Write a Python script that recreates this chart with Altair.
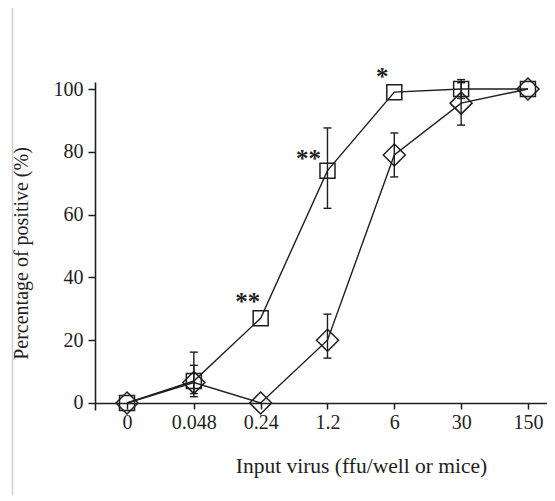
import altair as alt
import pandas as pd

# ---- data ----
x_labels = ["0", "0.048", "0.24", "1.2", "6", "30", "150"]

sq_values = [0, 7, 27, 74, 99, 100, 100]
sq_low = [None, 2, None, 62, None, 97, None]
sq_high = [None, 12, None, 87.6, None, 103, None]

di_values = [0, 6.5, 0, 20, 79, 95.5, 100]
di_low = [None, 3, None, 14.3, 72, 88.5, None]
di_high = [None, 16.2, None, 28.3, 86, 102, None]

# significance marks: (series-A point index, text)
sig_index = [2, 3, 4]
sig_text = ["**", "**", "*"]
sig_dx = [-13, -19, -12]
sig_dy = [-8, -4, -7]

FONT = "Liberation Serif"
INK = "#1e1e1e"

rows = []
for i, lab in enumerate(x_labels):
    rows.append(dict(series="A", idx=i, value=sq_values[i], lo=sq_low[i], hi=sq_high[i]))
    rows.append(dict(series="B", idx=i, value=di_values[i], lo=di_low[i], hi=di_high[i]))
df = pd.DataFrame(rows)
err = df.dropna(subset=["lo", "hi"])

ann = pd.DataFrame(
    dict(
        idx=sig_index,
        value=[sq_values[i] for i in sig_index],
        text=sig_text,
    )
)

label_expr = "[" + ",".join("'%s'" % s for s in x_labels) + "][datum.value]"

xscale = alt.Scale(domain=[-0.479, 6.285], nice=False, zero=False)
yscale = alt.Scale(domain=[-2.23, 102.23], nice=False, zero=False)

x_enc = alt.X(
    "idx:Q",
    scale=xscale,
    axis=alt.Axis(
        values=list(range(len(x_labels))),
        labelExpr=label_expr,
        title="Input virus (ffu/well or mice)",
        offset=-7,
        tickSize=6,
        labelPadding=3,
        titleX=266,
        titleY=69,
        titleFontSize=21.5,
        titleBaseline="alphabetic",
        labelFlush=False,
    ),
)
y_enc = alt.Y(
    "value:Q",
    scale=yscale,
    axis=alt.Axis(
        values=[0, 20, 40, 60, 80, 100],
        title="Percentage of positive (%)",
        tickSize=7,
        labelPadding=5,
        titleX=-68,
        titleY=171,
        titleFontSize=20,
        titleBaseline="alphabetic",
        titleAlign="center",
        labelFlush=False,
    ),
)

base = alt.Chart(df)

lines = base.mark_line(color=INK, strokeWidth=1.4).encode(
    x=x_enc, y=y_enc, detail="series:N", order="idx:Q"
)

err_base = alt.Chart(err)
bars = err_base.mark_rule(color=INK, strokeWidth=1.4).encode(
    x=alt.X("idx:Q", scale=xscale), y=alt.Y("lo:Q", scale=yscale), y2="hi:Q"
)
cap_lo = err_base.mark_rule(color=INK, strokeWidth=1.4, xOffset=-4, x2Offset=4).encode(
    x=alt.X("idx:Q", scale=xscale), x2="idx:Q", y=alt.Y("lo:Q", scale=yscale)
)
cap_hi = err_base.mark_rule(color=INK, strokeWidth=1.4, xOffset=-4, x2Offset=4).encode(
    x=alt.X("idx:Q", scale=xscale), x2="idx:Q", y=alt.Y("hi:Q", scale=yscale)
)

squares = base.transform_filter("datum.series == 'A'").mark_point(
    shape="square", size=225, filled=False, stroke=INK, strokeWidth=1.5, opacity=1
).encode(x=alt.X("idx:Q", scale=xscale), y=alt.Y("value:Q", scale=yscale))

diamonds = base.transform_filter("datum.series == 'B'").mark_point(
    shape="diamond", size=484, filled=False, stroke=INK, strokeWidth=1.5, opacity=1
).encode(x=alt.X("idx:Q", scale=xscale), y=alt.Y("value:Q", scale=yscale))

texts = []
for k in range(len(sig_index)):
    texts.append(
        alt.Chart(ann.iloc[[k]])
        .mark_text(
            font=FONT,
            fontSize=25,
            fontWeight="bold",
            color=INK,
            align="center",
            baseline="alphabetic",
            dx=sig_dx[k],
            dy=sig_dy[k],
        )
        .encode(x=alt.X("idx:Q", scale=xscale), y=alt.Y("value:Q", scale=yscale), text="text:N")
    )

border = alt.Chart(pd.DataFrame({"a": [0]})).mark_rule(
    color="#d0d0d0", strokeWidth=1.5, clip=False
).encode(x=alt.value(-82.5), y=alt.value(-74), y2=alt.value(420))

chart = (
    alt.layer(border, lines, bars, cap_lo, cap_hi, squares, diamonds, *texts)
    .properties(
        width=452,
        height=328,
        autosize=alt.AutoSizeParams(type="none"),
        padding={"left": 87, "top": 74, "right": 0, "bottom": 85},
        background="white",
    )
    .configure_view(stroke=None)
    .configure_axis(
        grid=False,
        domainColor=INK,
        domainWidth=1.6,
        tickColor=INK,
        tickWidth=1.5,
        labelFont=FONT,
        labelFontSize=20,
        labelColor=INK,
        titleFont=FONT,
        titleFontSize=20,
        titleFontWeight="normal",
        titleColor=INK,
    )
)

chart.save("out.html", embed_options={"renderer": "svg", "actions": False})
